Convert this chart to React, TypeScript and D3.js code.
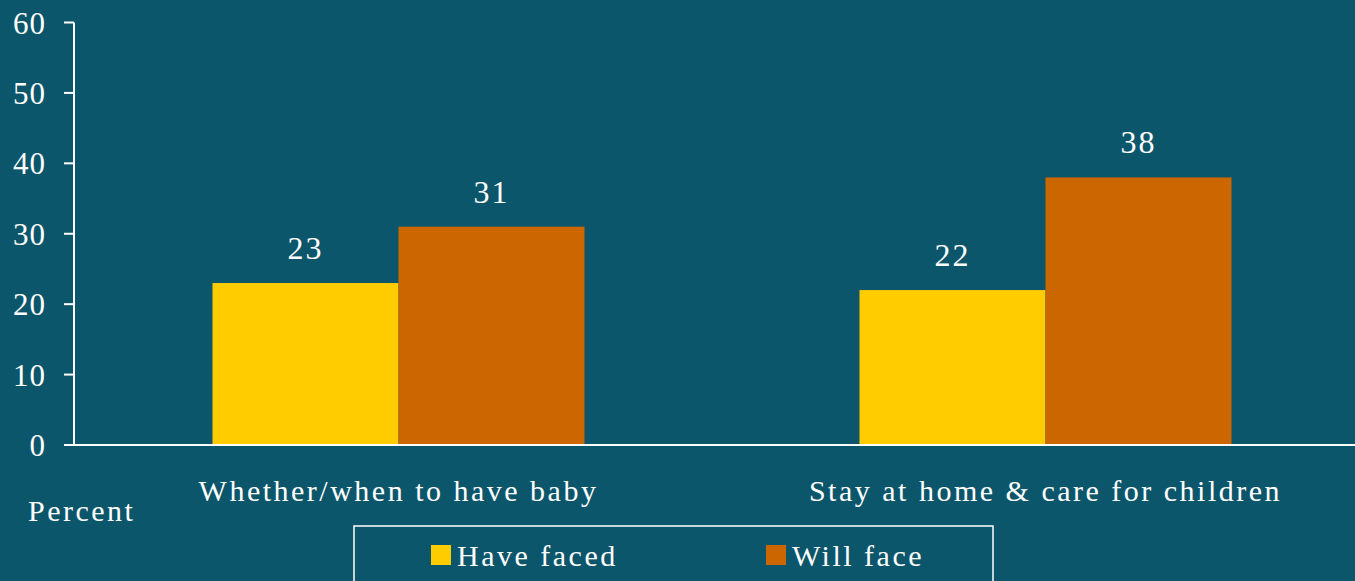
import React, { useEffect, useRef } from 'react'
import * as d3 from 'd3'

const categories = ['Whether/when to have baby', 'Stay at home & care for children']
const seriesNames = ['Have faced', 'Will face']
const haveFaced = [23, 22]
const willFace = [31, 38]
const yTicks = [0, 10, 20, 30, 40, 50, 60]

const colors = ['#FFCC00', '#CC6600']
const bg = '#0C566B'
const ink = '#FFFFFF'
const font = '"Liberation Serif", serif'

const App = () => {
  const ref = useRef<SVGSVGElement>(null)

  useEffect(() => {
    const width = 1355
    const height = 581
    const svg = d3.select(ref.current)
    svg.selectAll('*').remove()

    svg.append('rect').attr('width', width).attr('height', height).attr('fill', bg)

    const y = d3.scaleLinear().domain([0, 60]).range([445, 22.5])
    const x0 = d3
      .scaleBand()
      .domain(categories)
      .range([75, 1369])
      .paddingInner(0.425)
      .paddingOuter(0.2125)
    const x1 = d3.scaleBand().domain(seriesNames).range([0, x0.bandwidth()])

    const values = [haveFaced, willFace]

    // barras
    categories.forEach((cat, i) => {
      seriesNames.forEach((s, j) => {
        const v = values[j][i]
        const bx = (x0(cat) ?? 0) + (x1(s) ?? 0)
        svg
          .append('rect')
          .attr('x', bx)
          .attr('y', y(v))
          .attr('width', x1.bandwidth())
          .attr('height', y(0) - y(v))
          .attr('fill', colors[j])
        svg
          .append('text')
          .attr('x', bx + x1.bandwidth() / 2)
          .attr('y', y(v) - 24)
          .attr('text-anchor', 'middle')
          .attr('fill', ink)
          .style('font-family', font)
          .style('font-size', '32px')
          .style('letter-spacing', '2px')
          .text(v)
      })
    })

    // eixo y
    const yAxis = svg.append('g').attr('transform', 'translate(74,0)')
    yAxis.append('line').attr('x1', 0).attr('x2', 0).attr('y1', y(60)).attr('y2', y(0)).attr('stroke', ink).attr('stroke-width', 2)
    yTicks.forEach((t) => {
      yAxis.append('line').attr('x1', -10).attr('x2', 0).attr('y1', y(t)).attr('y2', y(t)).attr('stroke', ink).attr('stroke-width', 2)
      yAxis
        .append('text')
        .attr('x', -28)
        .attr('y', y(t) + 11)
        .attr('text-anchor', 'end')
        .attr('fill', ink)
        .style('font-family', font)
        .style('font-size', '31px')
        .style('letter-spacing', '1px')
        .text(t)
    })

    // eixo x
    svg.append('line').attr('x1', 64).attr('x2', width).attr('y1', y(0)).attr('y2', y(0)).attr('stroke', ink).attr('stroke-width', 2)
    categories.forEach((cat) => {
      svg
        .append('text')
        .attr('x', (x0(cat) ?? 0) + x0.bandwidth() / 2)
        .attr('y', 501)
        .attr('text-anchor', 'middle')
        .attr('fill', ink)
        .style('font-family', font)
        .style('font-size', '30px')
        .style('letter-spacing', '2.5px')
        .text(cat)
    })

    svg
      .append('text')
      .attr('x', 28)
      .attr('y', 521)
      .attr('fill', ink)
      .style('font-family', font)
      .style('font-size', '30px')
      .style('letter-spacing', '2.5px')
      .text('Percent')

    // legenda
    svg.append('rect').attr('x', 354).attr('y', 526).attr('width', 639).attr('height', 70).attr('fill', 'none').attr('stroke', ink).attr('stroke-width', 1.5)
    const legX = [431, 766]
    seriesNames.forEach((s, j) => {
      svg.append('rect').attr('x', legX[j]).attr('y', 545).attr('width', 20).attr('height', 20).attr('fill', colors[j])
      svg
        .append('text')
        .attr('x', legX[j] + 26)
        .attr('y', 566)
        .attr('fill', ink)
        .style('font-family', font)
        .style('font-size', '30px')
        .style('letter-spacing', '2.5px')
        .text(s)
    })
  }, [])

  return (
    <svg
      ref={ref}
      width={1355}
      height={581}
      style={{ position: 'fixed', left: 0, top: 0, display: 'block' }}
    />
  )
}

export default App
